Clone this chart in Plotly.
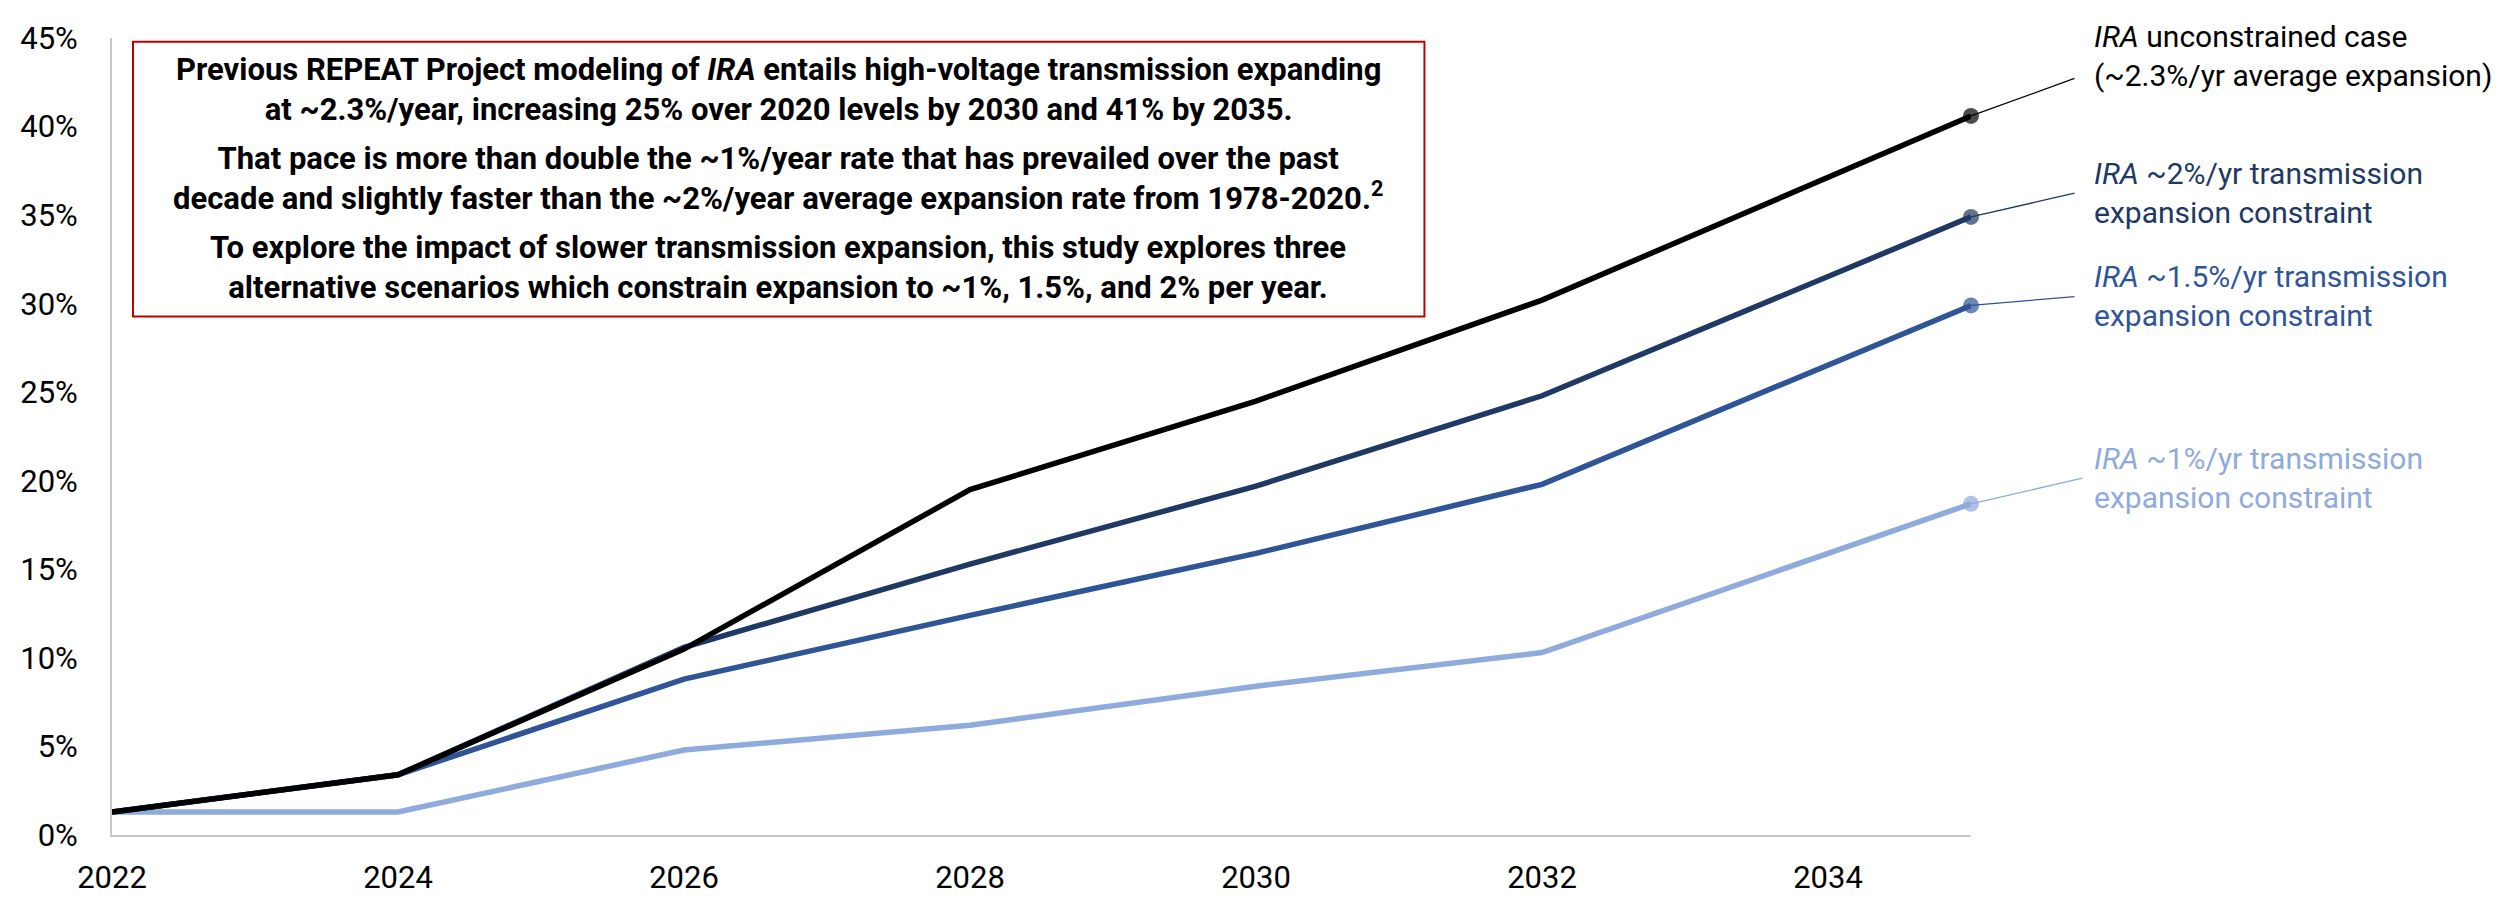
import plotly.graph_objects as go

# data (share of 2020 transmission capacity added, %)
years = [2022, 2024, 2026, 2028, 2030, 2032, 2035]
unconstrained = [1.3, 3.4, 10.5, 19.5, 24.5, 30.2, 40.6]
cap_2 = [1.3, 3.4, 10.6, 15.3, 19.7, 24.8, 34.9]
cap_1_5 = [1.3, 3.4, 8.8, 12.4, 15.9, 19.8, 29.9]
cap_1 = [1.3, 1.3, 4.8, 6.2, 8.4, 10.3, 18.7]

x_ticks = [2022, 2024, 2026, 2028, 2030, 2032, 2034]
y_ticks = [0, 5, 10, 15, 20, 25, 30, 35, 40, 45]

labels = [
    "<i>IRA</i> ~1%/yr transmission<br>expansion constraint",
    "<i>IRA</i> ~1.5%/yr transmission<br>expansion constraint",
    "<i>IRA</i> ~2%/yr transmission<br>expansion constraint",
    "<i>IRA</i> unconstrained case<br>(~2.3%/yr average expansion)",
]
series = [cap_1, cap_1_5, cap_2, unconstrained]
colors = ["#8FAADC", "#2F5597", "#203864", "#000000"]

# leader line offsets (px) and label offsets (px), per series
leader_ax = [113, 105, 105, 105]
leader_ay = [-26, -9, -24, -38]
label_dy = [26, 9, 24, 60]

font_family = "Roboto"

fig = go.Figure()

for vals, col in zip(series, colors):
    sizes = [0] * (len(vals) - 1) + [16]
    fig.add_trace(go.Scatter(
        x=years, y=[v / 100 for v in vals], mode="lines+markers",
        line=dict(color=col, width=5.5),
        marker=dict(size=sizes, color=col, line=dict(width=0)),
        cliponaxis=False, showlegend=False, hoverinfo="skip"))

for vals, col, txt, ax, ay, dy in zip(series, colors, labels, leader_ax, leader_ay, label_dy):
    # leader line
    fig.add_annotation(x=years[-1], y=vals[-1] / 100, xref="x", yref="y",
                       text="", showarrow=True, arrowhead=0, arrowwidth=1.3,
                       arrowcolor=col, ax=ax, ay=ay, standoff=0)
    # label
    fig.add_annotation(x=years[-1], y=vals[-1] / 100, xref="x", yref="y",
                       text=txt, showarrow=False, xanchor="left", yanchor="middle",
                       xshift=121, yshift=dy, align="left",
                       font=dict(family=font_family, size=30, color=col))

# note box
paragraphs = [
    "Previous REPEAT Project modeling of <i>IRA</i> entails high-voltage transmission expanding<br>"
    "at ~2.3%/year, increasing 25% over 2020 levels by 2030 and 41% by 2035.",
    "That pace is more than double the ~1%/year rate that has prevailed over the past<br>"
    "decade and slightly faster than the ~2%/year average expansion rate from 1978-2020.<sup>2</sup>",
    "To explore the impact of slower transmission expansion, this study explores three<br>"
    "alternative scenarios which constrain expansion to ~1%, 1.5%, and 2% per year.",
]
para_y = [0.936, 0.8235, 0.7116]
for txt, py in zip(paragraphs, para_y):
    fig.add_annotation(x=0.3585, y=py, xref="paper", yref="paper", text="<b>" + txt + "</b>",
                       showarrow=False, xanchor="center", yanchor="middle", align="center",
                       font=dict(family=font_family, size=31, color="#000000"))

fig.add_shape(type="rect", xref="paper", yref="paper",
              x0=0.0113, x1=0.7060, y0=0.6505, y1=0.9952,
              line=dict(color="#C00000", width=2), fillcolor="rgba(0,0,0,0)", layer="below")

fig.update_xaxes(range=[2022, 2035], tickvals=x_ticks, ticks="", showgrid=False, zeroline=False,
                 showline=True, linecolor="#C8C8C8", linewidth=2, ticklabelstandoff=14,
                 tickfont=dict(family=font_family, size=31, color="#000000"))
fig.update_yaxes(range=[0, 0.45], tickvals=[v / 100 for v in y_ticks], tickformat=".0%",
                 ticks="", showgrid=False, zeroline=False,
                 showline=True, linecolor="#C8C8C8", linewidth=2, ticklabelstandoff=26,
                 tickfont=dict(family=font_family, size=31, color="#000000"))

fig.update_layout(width=2520, height=900, margin=dict(l=103, r=557, t=19, b=54),
                  plot_bgcolor="white", paper_bgcolor="white",
                  font=dict(family=font_family))

fig.write_html("out.html")
